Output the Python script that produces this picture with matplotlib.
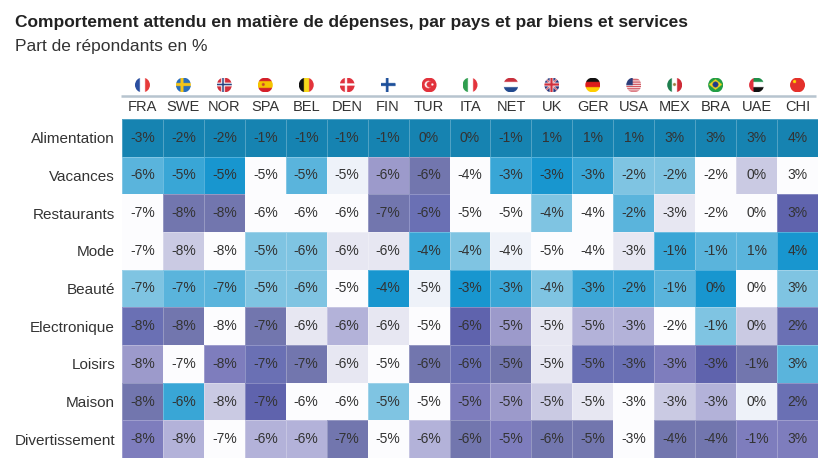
import numpy as np
import matplotlib
matplotlib.use("Agg")
import matplotlib.pyplot as plt
import matplotlib.colors as mcolors
from matplotlib.patches import Circle

plt.rcParams['font.family'] = ['Liberation Sans', 'DejaVu Sans']

countries = ["FRA", "SWE", "NOR", "SPA", "BEL", "DEN", "FIN", "TUR", "ITA",
             "NET", "UK", "GER", "USA", "MEX", "BRA", "UAE", "CHI"]
categories = ["Alimentation", "Vacances", "Restaurants", "Mode", "Beauté",
              "Electronique", "Loisirs", "Maison", "Divertissement"]

values = np.array([
    [-3, -2, -2, -1, -1, -1, -1, 0, 0, -1, 1, 1, 1, 3, 3, 3, 4],
    [-6, -5, -5, -5, -5, -5, -6, -6, -4, -3, -3, -3, -2, -2, -2, 0, 3],
    [-7, -8, -8, -6, -6, -6, -7, -6, -5, -5, -4, -4, -2, -3, -2, 0, 3],
    [-7, -8, -8, -5, -6, -6, -6, -4, -4, -4, -5, -4, -3, -1, -1, 1, 4],
    [-7, -7, -7, -5, -6, -5, -4, -5, -3, -3, -4, -3, -2, -1, 0, 0, 3],
    [-8, -8, -8, -7, -6, -6, -6, -5, -6, -5, -5, -5, -3, -2, -1, 0, 2],
    [-8, -7, -8, -7, -7, -6, -5, -6, -6, -5, -5, -5, -3, -3, -3, -1, 3],
    [-8, -6, -8, -7, -6, -6, -5, -5, -5, -5, -5, -5, -3, -3, -3, 0, 2],
    [-8, -8, -7, -6, -6, -7, -5, -6, -6, -5, -6, -5, -3, -4, -4, -1, 3],
])

# colour level of each cell (-8 = darkest purple, 6 = dark teal)
shade = np.array([
    [6, 6, 6, 6, 6, 6, 6, 6, 6, 6, 6, 6, 6, 6, 6, 6, 6],
    [3, 4, 5, 0, 3, 1, -4, -6, 0, 4, 5, 4, 2, 2, 0, -2, 0],
    [0, -6, -6, 0, 0, 0, -6, -7, 0, 0, 2, 0, 3, -1, 0, 0, -8],
    [0, -2, 0, 2, 2, -1, -1, 4, 2, 1, 0, 0, -1, 4, 3, 3, 5],
    [2, 3, 3, 2, 2, 0, 5, 1, 5, 4, 2, 4, 4, 3, 5, 0, 2],
    [-7, -6, 0, -6, -1, -3, -1, 0, -8, -4, -1, -3, -3, 0, 2, -2, -7],
    [-4, 0, -5, -7, -6, -1, 0, -6, -7, -6, -1, -7, -7, -5, -8, -6, 3],
    [-6, 4, -2, -8, 0, 0, 2, 0, -5, -4, -2, -1, 0, -2, -3, 1, -7],
    [-5, -3, 0, -3, -3, -6, 0, -3, -6, -5, -6, -6, 0, -6, -6, -5, -5],
])

palette = ["#5f63ad", "#6a70b4", "#7276ae", "#7e7dbd", "#9c9acb", "#b3b2d9",
           "#cacae3", "#e7e7f2", "#fcfcfe", "#eef2f9", "#7fc4e2", "#5ab4dc",
           "#39a6d6", "#1896cf", "#1683b1"]
cmap = mcolors.ListedColormap(palette)
norm = mcolors.BoundaryNorm(np.arange(-8.5, 7.5, 1), cmap.N)

fig = plt.figure(figsize=(8.4, 4.74), dpi=100)
W, H = 840, 474
left, right, top, bottom = 122, 818, 119, 458
ax = fig.add_axes([left / W, 1 - bottom / H, (right - left) / W, (bottom - top) / H])

nr, nc = values.shape
ax.pcolormesh(np.arange(nc + 1), np.arange(nr + 1), shade, cmap=cmap, norm=norm,
              edgecolors=(1, 1, 1, 0.25), linewidth=0.6)
ax.set_xlim(0, nc)
ax.set_ylim(nr, 0)

for r in range(nr):
    for c in range(nc):
        ax.text(c + 0.5, r + 0.5, f"{values[r, c]}%", ha="center", va="center",
                fontsize=10, color="#333333")

ax.set_xticks([])
ax.set_yticks(np.arange(nr) + 0.5)
ax.set_yticklabels(categories, fontsize=11, color="#333333")
ax.tick_params(axis="y", length=0, pad=5)
for s in ax.spines.values():
    s.set_visible(False)

cell_h = (bottom - top) / nr
cell_w = (right - left) / nc
for c, name in enumerate(countries):
    ax.text(c + 0.5, -12 / cell_h, name, ha="center", va="center", fontsize=10.5,
            color="#333333", clip_on=False)
ax.plot([-0.02, nc - 0.05], [-23 / cell_h, -23 / cell_h], color="#b7c4cf", lw=1.8,
        clip_on=False, solid_capstyle="butt")


def rgb(h):
    return np.array(mcolors.to_rgb(h))


def flag(code, n=40):
    v, u = np.mgrid[0:n, 0:n] / (n - 1)
    img = np.ones((n, n, 3))

    def put(mask, col):
        img[mask] = rgb(col)

    if code == "FRA":
        put(u < 1 / 3, "#2b4fa0"); put(u > 2 / 3, "#e63a3a")
    elif code == "SWE":
        put(u >= 0, "#2a6ebb"); put((abs(u - 0.4) < 0.1) | (abs(v - 0.5) < 0.1), "#f5c518")
    elif code == "NOR":
        put(u >= 0, "#d22f3c"); put((abs(u - 0.4) < 0.12) | (abs(v - 0.5) < 0.12), "white")
        put((abs(u - 0.4) < 0.06) | (abs(v - 0.5) < 0.06), "#1f3a7a")
    elif code == "SPA":
        put(u >= 0, "#d4202a"); put((v > 0.27) & (v < 0.73), "#f5c400")
        put(((u - 0.35) ** 2 + (v - 0.5) ** 2) < 0.01, "#c8452f")
    elif code == "BEL":
        put(u < 1 / 3, "#111111"); put((u >= 1 / 3) & (u <= 2 / 3), "#f8d91c"); put(u > 2 / 3, "#e3343c")
    elif code == "DEN":
        put(u >= 0, "#e0313d"); put((abs(u - 0.4) < 0.07) | (abs(v - 0.5) < 0.07), "white")
    elif code == "FIN":
        put((abs(u - 0.4) < 0.09) | (abs(v - 0.5) < 0.09), "#1d4f9a")
    elif code == "TUR":
        put(u >= 0, "#e2323c")
        put(((u - 0.42) ** 2 + (v - 0.5) ** 2) < 0.06, "white")
        put(((u - 0.5) ** 2 + (v - 0.5) ** 2) < 0.04, "#e2323c")
        put(((u - 0.7) ** 2 + (v - 0.5) ** 2) < 0.006, "white")
    elif code == "ITA":
        put(u < 1 / 3, "#2f9e4f"); put(u > 2 / 3, "#e3343c")
    elif code == "NET":
        put(v < 1 / 3, "#c8313e"); put(v > 2 / 3, "#224a8f")
    elif code == "UK":
        put(u >= 0, "#24337a")
        put((abs(u - v) < 0.1) | (abs(u + v - 1) < 0.1), "white")
        put((abs(u - v) < 0.04) | (abs(u + v - 1) < 0.04), "#d0303c")
        put((abs(u - 0.5) < 0.13) | (abs(v - 0.5) < 0.13), "white")
        put((abs(u - 0.5) < 0.07) | (abs(v - 0.5) < 0.07), "#d0303c")
    elif code == "GER":
        put(v < 1 / 3, "#111111"); put((v >= 1 / 3) & (v <= 2 / 3), "#dd1c1c"); put(v > 2 / 3, "#ffce00")
    elif code == "USA":
        put((np.floor(v * 13) % 2) == 0, "#c8313e")
        put((u < 0.45) & (v < 0.54), "#2c3e7a")
    elif code == "MEX":
        put(u < 1 / 3, "#1e7f4f"); put(u > 2 / 3, "#ce2b37")
        put(((u - 0.5) ** 2 + (v - 0.5) ** 2) < 0.012, "#9a7a3a")
    elif code == "BRA":
        put(u >= 0, "#229e45")
        put(abs(u - 0.5) / 0.46 + abs(v - 0.5) / 0.36 < 1, "#f8d21c")
        put(((u - 0.5) ** 2 + (v - 0.5) ** 2) < 0.04, "#1f3a8a")
    elif code == "UAE":
        put(v < 1 / 3, "#1f8f4a"); put(v > 2 / 3, "#111111"); put(u < 0.3, "#e0313d")
    elif code == "CHI":
        put(u >= 0, "#e4312b")
        put(((u - 0.3) ** 2 + (v - 0.3) ** 2) < 0.012, "#ffdf00")
    return img


r_px = 7.5
for c, name in enumerate(countries):
    cx = left + (c + 0.5) * cell_w
    cy = 85
    fax = fig.add_axes([(cx - r_px) / W, 1 - (cy + r_px) / H, 2 * r_px / W, 2 * r_px / H])
    im = fax.imshow(flag(name), extent=(0, 1, 0, 1), interpolation="bilinear")
    im.set_clip_path(Circle((0.5, 0.5), 0.5, transform=fax.transAxes))
    fax.set_axis_off()

fig.text(15 / W, 1 - 23 / H, "Comportement attendu en matière de dépenses, par pays et par biens et services",
         fontsize=12.5, fontweight="bold", color="#222222", va="center", ha="left")
fig.text(15 / W, 1 - 47 / H, "Part de répondants en %", fontsize=12.5, color="#333333",
         va="center", ha="left")

fig.savefig("out.png", dpi=100)
